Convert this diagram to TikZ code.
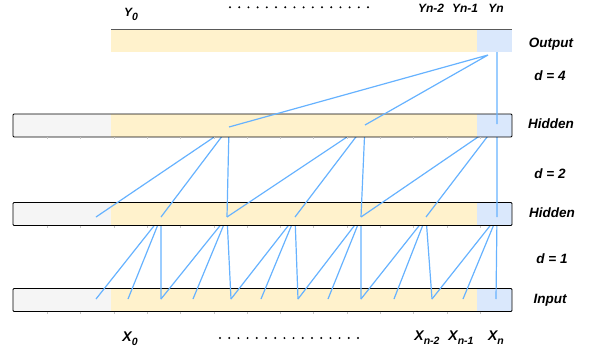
\documentclass[tikz,border=0pt]{standalone}
\usepackage{fontspec}
\setmainfont{Liberation Sans}

\definecolor{padgray}{HTML}{F5F5F5}
\definecolor{seqyellow}{HTML}{FFF2CC}
\definecolor{lastblue}{HTML}{DAE8FC}
\definecolor{linkblue}{HTML}{66B2FF}

\newcommand{\lowsub}[1]{\raisebox{-3.5pt}{\fontsize{10.5}{11}\selectfont #1}}
% one bar of the stack, top edge at y=#1
\newcommand{\stagebar}[1]{%
  \fill[padgray] (13,#1) rectangle (111,{#1+23});
  \fill[seqyellow] (111,#1) rectangle (477,{#1+23});
  \fill[lastblue] (477,#1) rectangle (512,{#1+23});
  \draw[line width=.9pt,rounded corners=1pt] (13,#1) rectangle (512,{#1+23});
  \foreach \k in {1,...,14}
    \draw[gray!45] ({14+33.3*\k},{#1+23}) -- ++(0,2);
}

\tikzset{
  link/.style={draw=linkblue,line width=1.2pt},
  sidelbl/.style={anchor=base,inner sep=0pt,font=\fontsize{13.5}{16}\selectfont\bfseries\itshape},
  seqlbl/.style={anchor=base,inner sep=0pt,font=\fontsize{14}{16}\selectfont\bfseries\itshape},
  toplbl/.style={anchor=base,inner sep=0pt,font=\fontsize{12}{14}\selectfont\bfseries\itshape}
}

\begin{document}
\begin{tikzpicture}[x=1pt,y=-1pt,line width=.5pt]
\path[use as bounding box] (0,0) rectangle (591,351);
% points of each layer
\foreach \x [count=\i] in {96,128,161,193,231,261,298,328,361,394,432,463,496}
  \coordinate (in\i) at (\x,299);
\foreach \x [count=\i from 0] in {96,161,227,295,361,426,497}
  \coordinate (hb\i) at (\x,217);
\coordinate (ha1) at (229,127);
\coordinate (ha2) at (365,125);
\coordinate (ha3) at (497,124);
\coordinate (out) at (488,55);
\coordinate (outtop) at (497,40);

% input, d = 1
\stagebar{288.5}
\foreach \j in {1,...,6} {
  \pgfmathtruncatemacro{\a}{2*\j-1}
  \pgfmathtruncatemacro{\b}{2*\j}
  \pgfmathtruncatemacro{\c}{2*\j+1}
  \draw[link] (hb\j) -- (in\a) (hb\j) -- (in\b) (hb\j) -- (in\c);
}

% hidden, d = 2
\stagebar{202.5}
\foreach \j in {1,2,3} {
  \pgfmathtruncatemacro{\a}{2*\j-2}
  \pgfmathtruncatemacro{\b}{2*\j-1}
  \pgfmathtruncatemacro{\c}{2*\j}
  \draw[link] (ha\j) -- (hb\a) (ha\j) -- (hb\b) (ha\j) -- (hb\c);
}

% hidden, d = 4
\stagebar{114}
\draw[link] (out) -- (ha1) (out) -- (ha2) (outtop) -- (ha3);

% output
\fill[seqyellow] (111,29) rectangle (477,52);
\fill[lastblue] (477,29) rectangle (512,52);
\draw[gray!70!black,line width=.8pt] (111,29) -- (512,29);

% sequence labels
\node[toplbl] (y0) at (131,16.7) {Y\lowsub{0}};
\foreach \k in {0,...,15}
  \fill ({230+9.2*\k},7.3) circle (1.1);
\node[toplbl] (yn2) at (431,12.5) {Yn-2};
\node[toplbl] (yn1) at (465,12.5) {Yn-1};
\node[toplbl] (yn) at (496,12.5) {Yn};

\node[seqlbl] (x0) at (130,341.7) {X\lowsub{0}};
\foreach \k in {0,...,15}
  \fill ({220+9.2*\k},338) circle (1.1);
\node[seqlbl] (xn2) at (427,340.5) {X\lowsub{n-2}};
\node[seqlbl] (xn1) at (461,340.5) {X\lowsub{n-1}};
\node[seqlbl] (xn) at (496,340.5) {X\lowsub{n}};

% layer labels
\node[sidelbl] (outlbl) at (551,47) {Output};
\node[sidelbl] (d4) at (550,80) {d = 4};
\node[sidelbl] (hid1) at (551,128.5) {Hidden};
\node[sidelbl] (d2) at (550,178) {d = 2};
\node[sidelbl] (hid2) at (552,217) {Hidden};
\node[sidelbl] (d1) at (552,263.5) {d = 1};
\node[sidelbl] (inlbl) at (550,303) {Input};
\end{tikzpicture}
\end{document}
